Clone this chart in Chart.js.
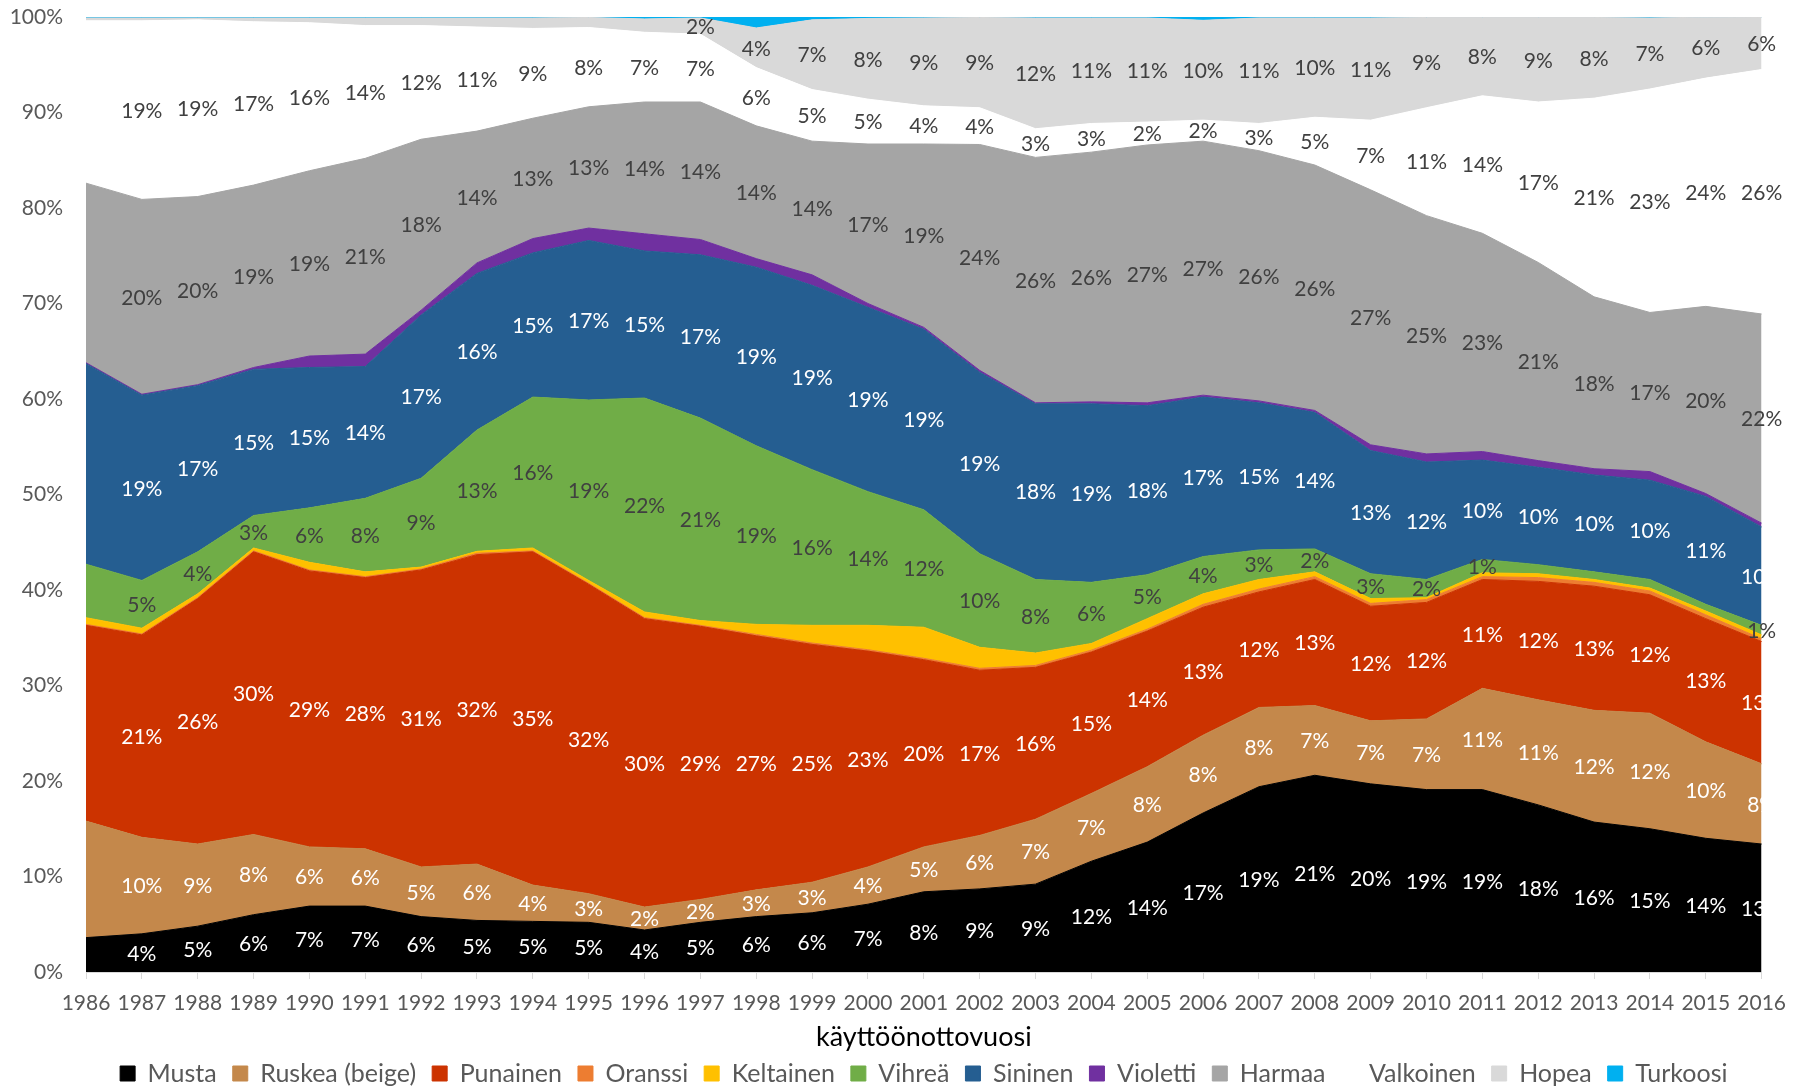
<!DOCTYPE html>
<html>
<head>
<meta charset="utf-8">
<title>Värit käyttöönottovuosittain</title>
<script src="https://cdn.jsdelivr.net/npm/chart.js@4.4.0/dist/chart.umd.min.js"></script>
<style>
  html, body { margin: 0; padding: 0; background: #fff; }
</style>
</head>
<body>
<canvas id="colorChart" width="1798" height="1086"></canvas>
<script>
// Years on the x axis
const years = ['1986', '1987', '1988', '1989', '1990', '1991', '1992', '1993', '1994', '1995', '1996',
    '1997', '1998', '1999', '2000', '2001', '2002', '2003', '2004', '2005', '2006',
    '2007', '2008', '2009', '2010', '2011', '2012', '2013', '2014', '2015', '2016'];

// Share of each colour per year (%)
const musta = [3.6, 4.0, 4.8, 6.0, 6.9, 6.9, 5.8, 5.4, 5.3, 5.2, 4.4, 5.2, 5.8, 6.2, 7.1, 8.4, 8.7, 9.2, 11.6, 13.6, 16.65, 19.4, 20.6, 19.7, 19.1, 19.1, 17.5, 15.7, 15.0, 14.0, 13.4];
const ruskea = [12.2, 10.1, 8.6, 8.4, 6.2, 6.0, 5.2, 5.9, 3.8, 3.0, 2.4, 2.4, 2.8, 3.2, 3.9, 4.7, 5.6, 6.8, 7.1, 7.9, 8.15, 8.3, 7.3, 6.6, 7.4, 10.6, 11.0, 11.7, 12.1, 10.1, 8.4];
const punainen = [20.5, 21.2, 25.7, 29.6, 28.9, 28.4, 31.1, 32.4, 34.9, 32.4, 30.2, 28.6, 26.6, 24.9, 22.6, 19.6, 17.3, 15.9, 14.8, 14.2, 13.4, 12.1, 13.2, 12.0, 12.2, 11.4, 12.4, 13.0, 12.4, 12.9, 12.8];
const oranssi = [0.1, 0.1, 0.1, 0.1, 0.1, 0.1, 0.1, 0.15, 0.1, 0.1, 0.1, 0.1, 0.15, 0.15, 0.15, 0.15, 0.2, 0.2, 0.2, 0.2, 0.3, 0.3, 0.3, 0.3, 0.3, 0.3, 0.4, 0.4, 0.4, 0.4, 0.3];
const keltainen = [0.7, 0.6, 0.4, 0.3, 0.8, 0.5, 0.2, 0.2, 0.3, 0.3, 0.6, 0.5, 1.05, 1.85, 2.55, 3.25, 2.2, 1.3, 0.7, 1.1, 1.1, 1.0, 0.5, 0.5, 0.2, 0.4, 0.4, 0.3, 0.3, 0.4, 0.4];
const vihrea = [5.6, 5.0, 4.4, 3.4, 5.7, 7.7, 9.3, 12.7, 15.8, 18.9, 22.4, 21.2, 18.7, 16.3, 14.0, 12.3, 9.8, 7.7, 6.4, 4.6, 3.9, 3.1, 2.4, 2.6, 1.9, 1.4, 0.95, 0.8, 0.9, 0.7, 1.0];
const sininen = [21.0, 19.4, 17.4, 15.3, 14.7, 13.8, 17.1, 16.4, 15.1, 16.7, 15.4, 17.1, 18.7, 19.3, 19.3, 18.9, 19.0, 18.4, 18.7, 17.7, 16.7, 15.4, 14.3, 12.9, 12.3, 10.4, 10.2, 10.15, 10.4, 11.3, 10.3];
const violetti = [0.1, 0.1, 0.1, 0.2, 1.2, 1.3, 0.5, 1.1, 1.5, 1.3, 1.8, 1.6, 0.9, 1.1, 0.4, 0.2, 0.2, 0.1, 0.2, 0.3, 0.2, 0.2, 0.2, 0.6, 0.85, 0.9, 0.7, 0.65, 0.9, 0.3, 0.4];
const harmaa = [18.8, 20.4, 19.7, 19.1, 19.4, 20.5, 17.9, 13.8, 12.6, 12.7, 13.8, 14.4, 13.9, 14.0, 16.7, 19.2, 23.65, 25.7, 26.15, 27.0, 26.6, 26.2, 25.7, 26.7, 24.95, 22.85, 20.75, 18.0, 16.66, 19.6, 21.9];
const valkoinen = [17.0, 18.7, 18.5, 17.1, 15.5, 13.9, 11.9, 10.9, 9.4, 8.3, 7.3, 7.1, 6.1, 5.4, 4.7, 4.0, 3.85, 3.0, 3.0, 2.4, 2.2, 2.85, 5.0, 7.3, 11.3, 14.4, 16.8, 20.8, 23.4, 23.9, 25.6];
const hopea = [0.3, 0.3, 0.2, 0.4, 0.5, 0.8, 0.8, 0.95, 1.1, 1.05, 1.4, 1.7, 4.15, 7.3, 8.45, 9.2, 9.45, 11.6, 11.05, 10.9, 10.45, 11.05, 10.4, 10.7, 9.45, 8.2, 8.85, 8.45, 7.44, 6.38, 5.5];
const turkoosi = [0.1, 0.1, 0.1, 0.1, 0.1, 0.1, 0.1, 0.1, 0.1, 0.05, 0.2, 0.1, 1.15, 0.3, 0.15, 0.1, 0.05, 0.1, 0.1, 0.1, 0.35, 0.1, 0.1, 0.1, 0.05, 0.05, 0.05, 0.05, 0.1, 0.02, 0.02];

const seriesNames = ['Musta', 'Ruskea (beige)', 'Punainen', 'Oranssi', 'Keltainen', 'Vihreä', 'Sininen', 'Violetti', 'Harmaa', 'Valkoinen', 'Hopea', 'Turkoosi'];
const seriesData = [musta, ruskea, punainen, oranssi, keltainen, vihrea, sininen, violetti, harmaa, valkoinen, hopea, turkoosi];
const seriesColors = ['#000000', '#C4884B', '#CC3300', '#ED7D31', '#FFC000', '#70AD47', '#255E91', '#7030A0', '#A5A5A5', '#FFFFFF', '#D9D9D9', '#00B0F0'];
// label colour per series, null = no data labels
const labelColors = ['#FFFFFF', '#FFFFFF', '#FFFFFF', null, null, '#404040', '#FFFFFF', null, '#404040', '#404040', '#404040', null];
const labelMin = [1, 1, 1, 0, 0, 1, 1, 0, 1, 1, 1.5, 0];

const FONT = 'Lato, "Open Sans", sans-serif';

// Draw the percentage in the middle of each band
const bandLabels = {
    id: 'bandLabels',
    afterDatasetsDraw(chart) {
        const ctx = chart.ctx;
        const yScale = chart.scales.y;
        ctx.save();
        ctx.font = '21px ' + FONT;
        ctx.textAlign = 'center';
        ctx.textBaseline = 'middle';
        chart.data.datasets.forEach((ds, di) => {
            if (!labelColors[di]) return;
            const meta = chart.getDatasetMeta(di);
            const below = di > 0 ? chart.getDatasetMeta(di - 1) : null;
            meta.data.forEach((pt, i) => {
                if (i === 0) return; // no labels for the first year
                const v = ds.data[i];
                if (v < labelMin[di]) return;
                const yBottom = below ? below.data[i].y : yScale.getPixelForValue(0);
                ctx.fillStyle = labelColors[di];
                ctx.fillText(Math.round(v) + '%', pt.x, (pt.y + yBottom) / 2 + 1);
            });
        });
        ctx.restore();
    }
};

// Legend is centred under the plot area, not the whole canvas
const legendUnderPlot = {
    id: 'legendUnderPlot',
    afterLayout(chart) {
        const shift = (chart.chartArea.left + chart.chartArea.right) / 2 - (chart.legend.left + chart.legend.right) / 2;
        chart.legend.left += shift;
        chart.legend.right += shift;
    }
};

function renderChart() {
    const ctx = document.getElementById('colorChart').getContext('2d');
    new Chart(ctx, {
        type: 'line',
        data: {
            labels: years,
            datasets: seriesNames.map((name, i) => ({
                label: name,
                data: seriesData[i],
                backgroundColor: seriesColors[i],
                borderColor: seriesColors[i],
                borderWidth: 1,
                pointRadius: 0,
                tension: 0,
                fill: i === 0 ? 'origin' : '-1'
            }))
        },
        options: {
            responsive: false,
            animation: false,
            layout: {
                padding: { left: 0, right: 29, top: 17, bottom: -10 }
            },
            plugins: {
                tooltip: { enabled: false },
                legend: {
                    position: 'bottom',
                    labels: {
                        color: '#595959',
                        font: { family: FONT, size: 25 },
                        boxWidth: 15,
                        boxHeight: 15,
                        padding: 16
                    }
                }
            },
            scales: {
                x: {
                    offset: false,
                    grid: {
                        display: true,
                        drawOnChartArea: false,
                        drawTicks: true,
                        tickLength: 7,
                        color: '#D9D9D9'
                    },
                    border: { display: true, color: '#D9D9D9' },
                    ticks: {
                        color: '#595959',
                        font: { family: FONT, size: 21 },
                        padding: 12,
                        autoSkip: false,
                        maxRotation: 0
                    },
                    title: {
                        display: true,
                        text: 'käyttöönottovuosi',
                        color: '#000000',
                        font: { family: FONT, size: 27, lineHeight: 1 },
                        padding: { top: 0, bottom: -6 }
                    },
                    afterFit: (scale) => { scale.height = 73; }
                },
                y: {
                    stacked: true,
                    min: 0,
                    max: 100,
                    grid: { display: false, drawTicks: false },
                    border: { display: false },
                    ticks: {
                        stepSize: 10,
                        color: '#595959',
                        font: { family: FONT, size: 21 },
                        padding: 23,
                        callback: (value) => value + '%'
                    },
                    afterFit: (scale) => {
                        scale.width = 86;
                        // the tick padding should not push the plot down from the top
                        scale.paddingTop = 0;
                        scale.paddingBottom = 0;
                    }
                }
            }
        },
        plugins: [bandLabels, legendUnderPlot]
    });
}

renderChart();
</script>
</body>
</html>
